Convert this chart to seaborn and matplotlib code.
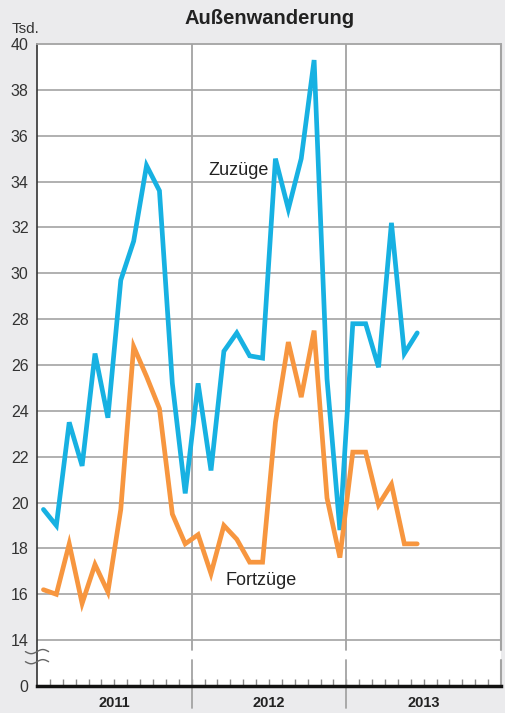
import matplotlib.pyplot as plt
import numpy as np
import pandas as pd
import seaborn as sns
from matplotlib.transforms import blended_transform_factory

# Monatswerte Jan 2011 - Jun 2013, in Tsd.
monat = list(range(30))
zuzuege = [19.7, 19.0, 23.5, 21.6, 26.5, 23.7, 29.7, 31.4, 34.7, 33.6, 25.2, 20.4,
           25.2, 21.4, 26.6, 27.4, 26.4, 26.3, 35.0, 32.8, 35.0, 39.3, 25.4, 18.8,
           27.8, 27.8, 25.9, 32.2, 26.5, 27.4]
fortzuege = [16.2, 16.0, 18.2, 15.6, 17.3, 16.1, 19.7, 26.8, 25.5, 24.1, 19.5, 18.2,
             18.6, 16.9, 19.0, 18.4, 17.4, 17.4, 23.5, 27.0, 24.6, 27.5, 20.2, 17.6,
             22.2, 22.2, 19.9, 20.8, 18.2, 18.2]
jahre = ["2011", "2012", "2013"]
yticks = [12, 14, 16, 18, 20, 22, 24, 26, 28, 30, 32, 34, 36, 38, 40]
ytick_labels = ["0"] + [str(v) for v in yticks[1:]]

blau = "#17b1e2"
orange = "#f7963f"
grau = "#a3a3a3"
bg = "#ebebed"

df = pd.DataFrame({
    "Monat": [m + 0.5 for m in monat] * 2,
    "Tsd": zuzuege + fortzuege,
    "Reihe": ["Zuzüge"] * len(zuzuege) + ["Fortzüge"] * len(fortzuege),
})

sns.set_style("white")
plt.rcParams["font.family"] = ["Liberation Sans", "DejaVu Sans"]

fig = plt.figure(figsize=(5.05, 7.13), dpi=100, facecolor=bg)
ax = fig.add_axes([37 / 505, 27 / 713, 464 / 505, 642 / 713])
ax.set_facecolor("white")

sns.lineplot(data=df, x="Monat", y="Tsd", hue="Reihe",
             palette={"Zuzüge": blau, "Fortzüge": orange},
             linewidth=3.4, legend=False, ax=ax, zorder=5,
             solid_joinstyle="miter")

ax.set_xlim(0, 36)
ax.set_ylim(12, 40)
ax.set_xlabel("")
ax.set_ylabel("")

# horizontal grid
for v in yticks[1:-1]:
    ax.axhline(v, color=grau, lw=1.2, zorder=1)

# year separators with axis break gap
brk_lo, brk_hi = 13.12, 13.56
for xv in [12, 24]:
    ax.plot([xv, xv], [brk_hi, 40], color=grau, lw=1.3, zorder=1)
    ax.plot([xv, xv], [12, brk_lo], color=grau, lw=1.3, zorder=1)
trans = blended_transform_factory(ax.transData, ax.transAxes)
for xv in [12, 24]:
    ax.plot([xv, xv], [0, -0.034], color=grau, lw=1.3, transform=trans, clip_on=False)

ax.set_yticks(yticks)
ax.set_yticklabels(ytick_labels, fontsize=11.5, color="#333333")
ax.tick_params(axis="y", length=0, pad=6)
ax.set_xticks([])
ax.set_xticks(np.arange(1, 36), minor=True)
ax.tick_params(axis="x", which="minor", direction="in", length=5, width=1,
               color="#8a8a8a", bottom=True)

for side in ["top", "right"]:
    ax.spines[side].set_color(grau)
    ax.spines[side].set_linewidth(1.3)
ax.spines["right"].set_visible(False)
ax.plot([36, 36], [brk_hi, 40], color=grau, lw=1.5, zorder=1, clip_on=False)
ax.plot([36, 36], [12, brk_lo], color=grau, lw=1.5, zorder=1, clip_on=False)
ax.spines["left"].set_color("#333333")
ax.spines["left"].set_linewidth(1.2)
ax.spines["bottom"].set_color("#111111")
ax.spines["bottom"].set_linewidth(2.5)

# break marks on the left axis
t = np.linspace(-1, 1, 40)
for yc in [13.5, 13.06]:
    ax.plot(t * 0.9, yc + 0.09 * np.sin(t * np.pi), color="#666666", lw=1,
            clip_on=False, zorder=6)

# year labels
for i, j in enumerate(jahre):
    ax.text(i * 12 + 6, -0.027, j, transform=trans, ha="center", va="center",
            fontsize=10.5, fontweight="bold", color="#222222")

ax.text(15.65, 34.5, "Zuzüge", fontsize=13, ha="center", va="center", color="#222222", zorder=7)
ax.text(17.4, 16.6, "Fortzüge", fontsize=13, ha="center", va="center", color="#222222", zorder=7)

fig.text(270 / 505, 1 - 19 / 713, "Außenwanderung", ha="center", va="center",
         fontsize=14.5, fontweight="bold", color="#222222")
fig.text(12 / 505, 1 - 29 / 713, "Tsd.", ha="left", va="center", fontsize=11, color="#333333")

fig.savefig("out.png", dpi=100, facecolor=bg)
